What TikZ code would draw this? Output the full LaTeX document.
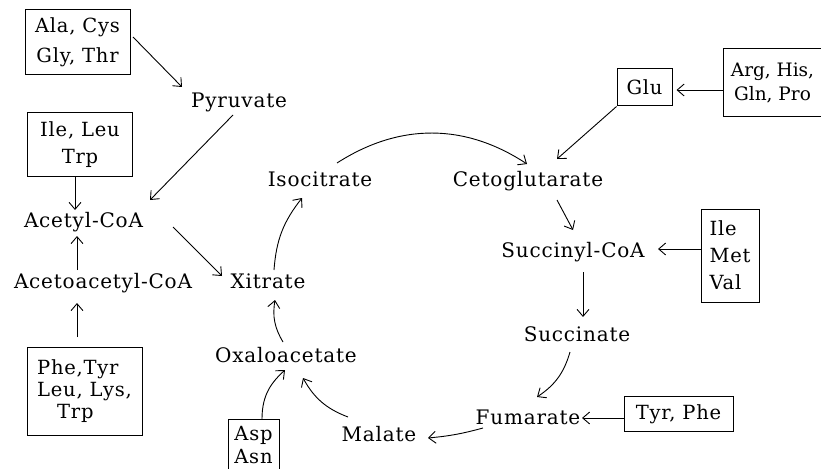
\documentclass[tikz,border=0pt]{standalone}
\usepackage{fontspec}
\setmainfont{DejaVu Serif}[LetterSpace=4]
\usetikzlibrary{arrows.meta,calc}
\begin{document}
\begin{tikzpicture}[x=1pt,y=-1pt,
  lbl/.style={inner sep=0pt,text height=14pt,text depth=0pt,font=\fontsize{20}{24}\selectfont},
  boxn/.style={draw,line width=1pt,inner sep=0pt,align=center},
  arr/.style={line width=0.9pt,-{Straight Barb[length=7pt,width=12pt]}}
]
\useasboundingbox (0,0) rectangle (821,468);
% boxes
\node[boxn,minimum width=105pt,minimum height=65pt,font=\fontsize{19.5}{30}\selectfont] (ala) at (77.5,42.5) {Ala, Cys\\Gly, Thr};
\node[boxn,minimum width=105pt,minimum height=63pt,font=\fontsize{19.5}{27}\selectfont] (ile) at (80,144.5) {Ile, Leu\\Trp};
\node[boxn,minimum width=115pt,minimum height=88pt,font=\fontsize{19.5}{22}\selectfont,align=left] (phe) at (84.5,391) {Phe,Tyr\\Leu, Lys,\\\hspace*{20pt}Trp\hspace*{20pt}};
\node[boxn,minimum width=55pt,minimum height=37pt,font=\fontsize{19.5}{24}\selectfont] (glu) at (644.5,87.5) {Glu};
\node[boxn,minimum width=108pt,minimum height=68pt,font=\fontsize{18.5}{24}\selectfont\addfontfeatures{LetterSpace=0},anchor=west] (arg) at (723,83) {Arg, His,\hspace*{10pt}\\Gln, Pro\hspace*{10pt}};
\node[boxn,minimum width=58pt,minimum height=93pt,font=\fontsize{19.5}{27}\selectfont,align=left] (imv) at (730,255.5) {Ile\\Met\\Val};
\node[boxn,minimum width=109pt,minimum height=35pt,font=\fontsize{19.5}{24}\selectfont] (tyr) at (678.5,414) {Tyr, Phe};
\node[boxn,minimum width=51pt,minimum height=51pt,font=\fontsize{19.5}{23}\selectfont,anchor=north] (asp) at (253.5,419) {Asp\\Asn};
% labels
\node[lbl] (pyr) at (239,100) {Pyruvate};
\node[lbl] (acetyl) at (83.5,220) {Acetyl-CoA};
\node[lbl] (acetoacetyl) at (103,281) {Acetoacetyl-CoA};
\node[lbl] (xitrate) at (268,281) {Xitrate};
\node[lbl] (iso) at (320,179) {Isocitrate};
\node[lbl] (ceto) at (528,179) {Cetoglutarate};
\node[lbl] (succinyl) at (573,250) {Succinyl-CoA};
\node[lbl] (succinate) at (577,334) {Succinate};
\node[lbl] (fumarate) at (528,417) {Fumarate};
\node[lbl] (malate) at (379,434) {Malate};
\node[lbl] (oxalo) at (286,355) {Oxaloacetate};
% connectors
\draw[arr] ($(ala)+(55.5,-5.5)$) -- ($(pyr)+(-57,-13)$);
\draw[arr] ($(pyr)+(-6,15)$) -- ($(acetyl)+(66.5,-20)$);
\draw[arr] ($(ile)+(-5,31.5)$) -- ($(acetyl)+(-8.5,-10)$);
\draw[arr] ($(acetyl)+(89.5,7)$) -- ($(xitrate)+(-46,-5)$);
\draw[arr] ($(acetoacetyl)+(-26,-11)$) -- ($(acetyl)+(-6.5,16)$);
\draw[arr] ($(phe)+(-7.5,-54)$) -- ($(acetoacetyl)+(-26,22)$);
\draw[arr] ($(xitrate)+(6,-11)$) to[bend left=17] ($(iso)+(-18,19)$);
\draw[arr] ($(iso)+(17,-16)$) to[bend left=33] ($(ceto)+(-1,-15)$);
\draw[arr] (glu.south west) -- ($(ceto)+(29,-20)$);
\draw[arr] ($(arg.west)+(0,7)$) -- ($(glu.east)+(4,2.5)$);
\draw[arr] ($(ceto)+(29,21)$) -- ($(succinyl)+(0,-20)$);
\draw[arr] ($(imv.west)+(0,-6.5)$) -- ($(succinyl)+(85,-1)$);
\draw[arr] ($(succinyl)+(10,22)$) -- ($(succinate)+(6,-17)$);
\draw[arr] ($(succinate)+(-7,18)$) to[bend left=20] ($(fumarate)+(9,-20)$);
\draw[arr] ($(tyr.west)+(0,4)$) -- ($(fumarate)+(54,1)$);
\draw[arr] ($(fumarate)+(-45,11)$) to[bend left=5] ($(malate)+(49,4)$);
\draw[arr] ($(malate)+(-31,-17)$) to[bend left=20] ($(oxalo)+(17,23)$);
\draw[arr] ($(asp.north)+(8.5,0)$) .. controls ($(asp.north)+(8.5,-25)$) and ($(oxalo)+(-14,27)$) .. ($(oxalo)+(-1,15)$);
\draw[arr] ($(oxalo)+(-3,-13)$) to[bend left=20] ($(xitrate)+(7,19)$);
\end{tikzpicture}
\end{document}
